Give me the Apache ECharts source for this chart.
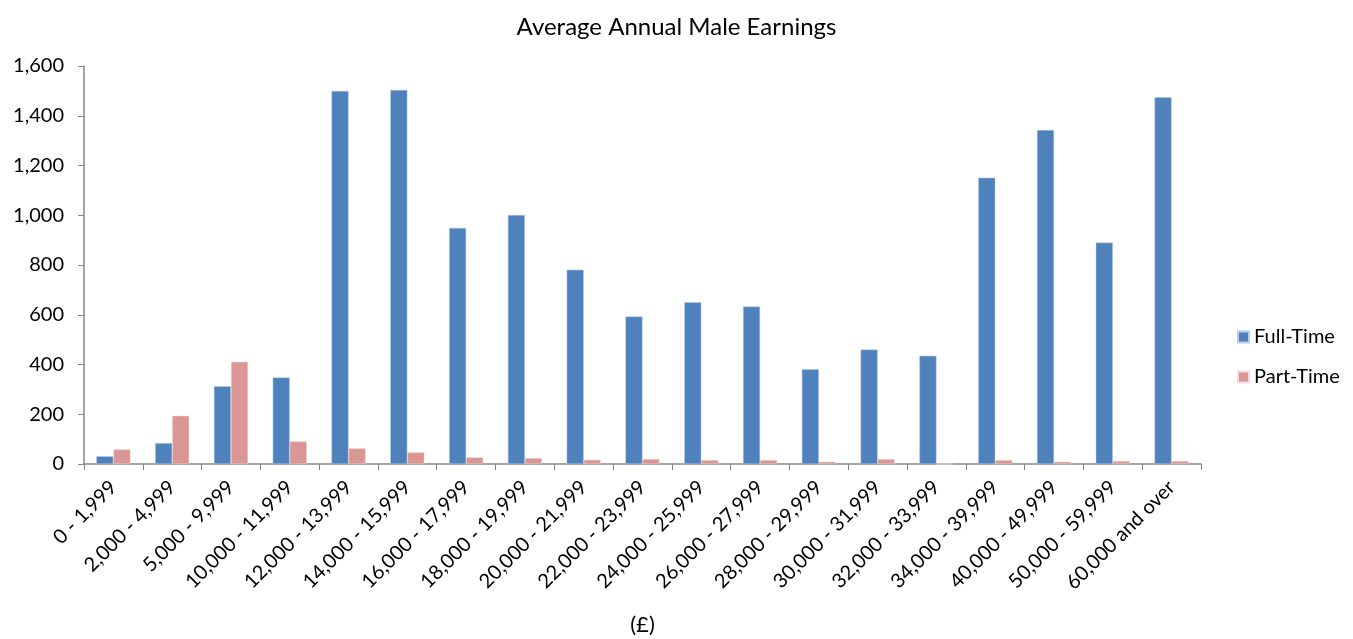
<!DOCTYPE html>
<html>
<head>
<meta charset="utf-8">
<script src="https://cdn.jsdelivr.net/npm/echarts@6/dist/echarts.min.js"></script>
<style>
  html, body { margin: 0; padding: 0; background: #fff; }
  #chart { width: 1353px; height: 639px; }
</style>
</head>
<body>
<div id="chart"></div>
<script>
// earnings bands
const categories = [
  '0 - 1,999', '2,000 - 4,999', '5,000 - 9,999', '10,000 - 11,999',
  '12,000 - 13,999', '14,000 - 15,999', '16,000 - 17,999', '18,000 - 19,999',
  '20,000 - 21,999', '22,000 - 23,999', '24,000 - 25,999', '26,000 - 27,999',
  '28,000 - 29,999', '30,000 - 31,999', '32,000 - 33,999', '34,000 - 39,999',
  '40,000 - 49,999', '50,000 - 59,999', '60,000 and over'
];
const fullTime = [31, 84, 313, 348, 1500, 1504, 949, 1001, 781, 593, 650, 633, 381, 460, 435, 1151, 1343, 890, 1474];
const partTime = [59, 194, 411, 91, 63, 47, 27, 24, 17, 20, 16, 16, 9, 20, 0, 16, 9, 12, 12];

const FONT = 'Lato, "Open Sans", sans-serif';
const axisGrey = '#868686';

const chart = echarts.init(document.getElementById('chart'));

const option = {
  animation: false,
  title: {
    text: 'Average Annual Male Earnings',
    left: 'center',
    top: 10,
    textStyle: { fontFamily: FONT, fontSize: 24, fontWeight: 'normal', color: '#000' }
  },
  legend: {
    orient: 'vertical',
    left: 1232,
    top: 322,
    itemGap: 20,
    itemWidth: 11,
    itemHeight: 11,
    icon: 'rect',
    textStyle: { fontFamily: FONT, fontSize: 20, color: '#000' },
    data: ['Full-Time', 'Part-Time']
  },
  grid: {
    left: 84,
    right: 152,
    top: 66,
    bottom: 175,
    containLabel: false,
    outerBoundsMode: 'none'
  },
  xAxis: {
    type: 'category',
    data: categories,
    name: '(£)',
    nameLocation: 'middle',
    nameGap: 150,
    nameTextStyle: { fontFamily: FONT, fontSize: 22, color: '#000' },
    axisLine: { lineStyle: { color: axisGrey, width: 1.5 } },
    axisTick: { show: true, length: 6, lineStyle: { color: axisGrey } },
    axisLabel: {
      interval: 0,
      rotate: 45,
      margin: 20,
      fontFamily: FONT,
      fontSize: 20,
      color: '#000'
    }
  },
  yAxis: {
    type: 'value',
    min: 0,
    max: 1600,
    interval: 200,
    axisLine: { show: true, lineStyle: { color: axisGrey, width: 1.5 } },
    axisTick: { show: true, length: 6, lineStyle: { color: axisGrey } },
    splitLine: { show: false },
    axisLabel: {
      margin: 20,
      fontFamily: FONT,
      fontSize: 20,
      color: '#000',
      formatter: v => v.toLocaleString('en-US')
    }
  },
  series: [
    {
      name: 'Full-Time',
      type: 'bar',
      data: fullTime,
      barGap: '0%',
      barCategoryGap: '42%',
      itemStyle: { color: '#4f81bd', borderColor: '#b9cde5', borderWidth: 0.5 }
    },
    {
      name: 'Part-Time',
      type: 'bar',
      data: partTime,
      itemStyle: { color: '#d99694', borderColor: '#f2dcdb', borderWidth: 0.5 }
    }
  ]
};

chart.setOption(option);
</script>
</body>
</html>
